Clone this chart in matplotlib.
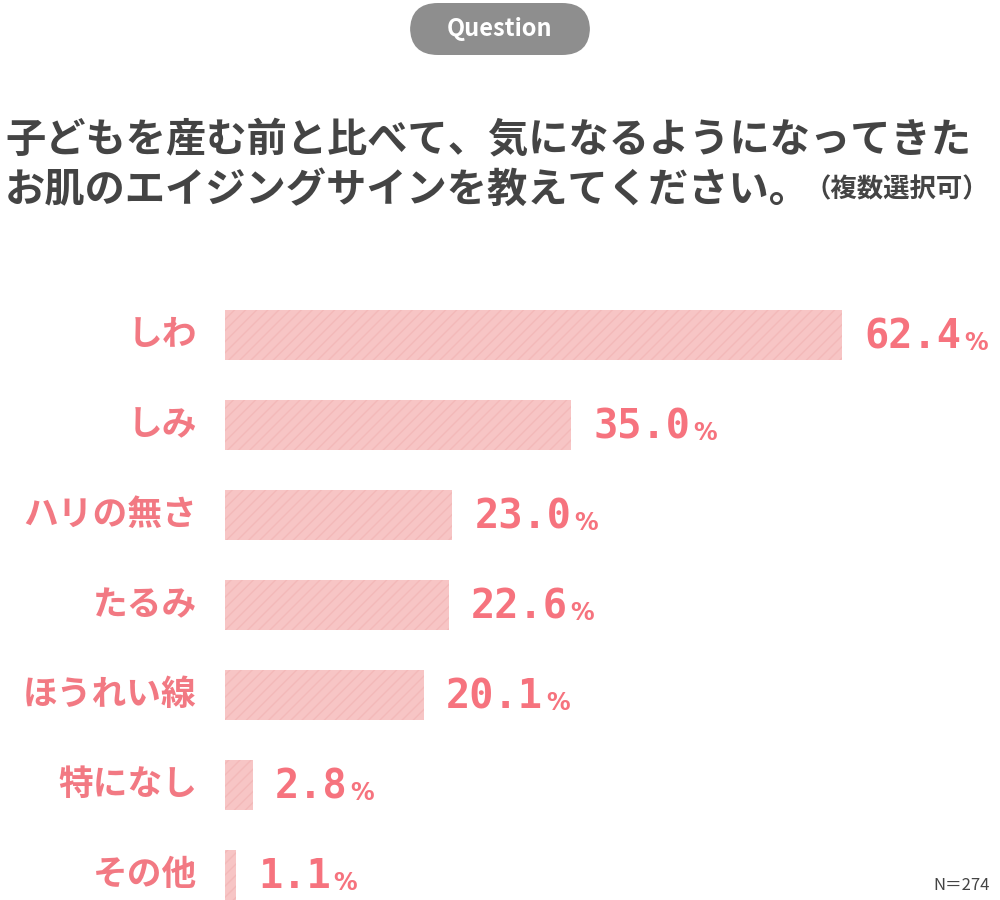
import matplotlib.pyplot as plt
from matplotlib.patches import FancyBboxPatch

plt.rcParams['font.family'] = ['Noto Sans CJK JP', 'DejaVu Sans']

# data
categories = ['しわ', 'しみ', 'ハリの無さ', 'たるみ', 'ほうれい線', '特になし', 'その他']
values = [62.4, 35.0, 23.0, 22.6, 20.1, 2.8, 1.1]
title1 = '子どもを産む前と比べて、気になるようになってきた'
title2 = 'お肌のエイジングサインを教えてください。'
title2_note = '（複数選択可）'
n_note = 'N＝274'

bar_color = '#f7c5c5'
label_color = '#f27983'
text_dark = '#444444'

W, H = 1000, 900
fig = plt.figure(figsize=(10, 9), dpi=100)
fig.patch.set_facecolor('white')

# bars axes: x from 225px to 1000px, y from 290px (top) to 900px (bottom)
ax = fig.add_axes([225 / W, 0, 775 / W, 610 / H])
ax.set_xlim(0, 775 / 9.89)
ax.set_ylim(6.28, -0.5)
ax.axis('off')

ypos = list(range(len(categories)))
ax.barh(ypos, values, height=0.56, color=bar_color, edgecolor='none')
# light texture on bars
ax.barh(ypos, values, height=0.56, color='none', edgecolor='#f3b9b9',
        hatch='///', linewidth=0)

renderer = fig.canvas.get_renderer()
for y, cat, v in zip(ypos, categories, values):
    ax.annotate(cat, xy=(0, y), xytext=(-28, 0), textcoords='offset pixels',
                ha='right', va='center', fontsize=25, color=label_color,
                fontweight='bold')
    t = ax.annotate(f'{v:.1f}', xy=(v, y), xytext=(22, -2), textcoords='offset pixels',
                    ha='left', va='center', fontsize=29, color='#f6737e',
                    family='DejaVu Sans Mono', fontweight='bold')
    bb = t.get_window_extent(renderer)
    fig.text((bb.x1 + 3) / W, (bb.y0 + 6) / H, '%', ha='left', va='baseline',
             fontsize=17, color='#f6737e', family='DejaVu Sans', fontweight='bold')

# Question badge
badge = FancyBboxPatch((410 / W, (H - 55) / H), 180 / W, 52 / H,
                       boxstyle='round,pad=0,rounding_size=0.028',
                       transform=fig.transFigure, facecolor='#8e8e8e',
                       edgecolor='none', mutation_aspect=W / H)
fig.patches.append(badge)
fig.text(0.5, (H - 29) / H, 'Question', ha='center', va='center',
         fontsize=17, color='white', fontweight='bold')

# title
fig.text(5 / W, (H - 140) / H, title1, ha='left', va='center',
         fontsize=29, color=text_dark, fontweight='bold')
t2 = fig.text(5 / W, (H - 190) / H, title2, ha='left', va='center',
              fontsize=29, color=text_dark, fontweight='bold')
bb2 = t2.get_window_extent(renderer)
fig.text((bb2.x1 - 6) / W, (H - 190) / H, title2_note, ha='left', va='center',
         fontsize=19, color=text_dark, fontweight='bold')

fig.text(990 / W, (H - 886) / H, n_note, ha='right', va='center',
         fontsize=12, color=text_dark)

fig.savefig('out.png', dpi=100, facecolor='white')
